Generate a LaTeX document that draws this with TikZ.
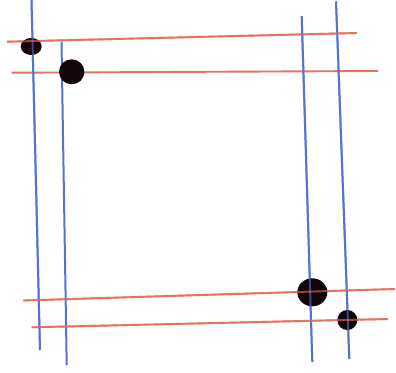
\documentclass[tikz,border=0pt]{standalone}
\begin{document}
\begin{tikzpicture}[x=1pt,y=-1pt,
  vline/.style={draw={rgb,255:red,85;green,115;blue,205},line width=2pt},
  hline/.style={draw={rgb,255:red,228;green,115;blue,95},line width=1.9pt},
  dotc/.style={fill={rgb,255:red,20;green,5;blue,10}}]
\useasboundingbox[fill=white] (0,0) rectangle (396,372);
% blue vertical lines
\coordinate (b1a) at (31.5,0);   \coordinate (b1b) at (40,350);
\coordinate (b2a) at (61.5,42);  \coordinate (b2b) at (66.7,365);
\coordinate (b3a) at (301.7,16); \coordinate (b3b) at (312.3,362);
\coordinate (b4a) at (336,1.5);  \coordinate (b4b) at (349.3,359);
% red horizontal lines
\coordinate (r1a) at (7,41.7);   \coordinate (r1b) at (357,33);
\coordinate (r2a) at (11.7,72.7);\coordinate (r2b) at (378,71);
\coordinate (r3a) at (23.3,300.5);\coordinate (r3b) at (395,289);
\coordinate (r4a) at (31.7,327.3);\coordinate (r4b) at (388,319);
\draw[hline] (r1a) -- (r1b);
\draw[hline] (r2a) -- (r2b);
\draw[hline] (r3a) -- (r3b);
\draw[hline] (r4a) -- (r4b);
\draw[vline] (b1a) -- (b1b);
\draw[vline] (b2a) -- (b2b);
\draw[vline] (b3a) -- (b3b);
\draw[vline] (b4a) -- (b4b);
% dots
\fill[dotc] (31.2,46.5) ellipse (10.5 and 8.5);
\fill[dotc] (71.7,71.8) ellipse (12.7 and 12.5);
\fill[dotc] (312.3,292.3) ellipse (15 and 14);
\fill[dotc] (347.3,320) ellipse (10 and 10);
% lines visible through dots
\begin{scope}[opacity=0.6]
\draw[vline] (b1a) -- (b1b);
\draw[vline] (b3a) -- (b3b);
\draw[vline] (b4a) -- (b4b);
\draw[hline] (r1a) -- (r1b);
\draw[hline] (r3a) -- (r3b);
\draw[hline] (r4a) -- (r4b);
\end{scope}
\end{tikzpicture}
\end{document}
